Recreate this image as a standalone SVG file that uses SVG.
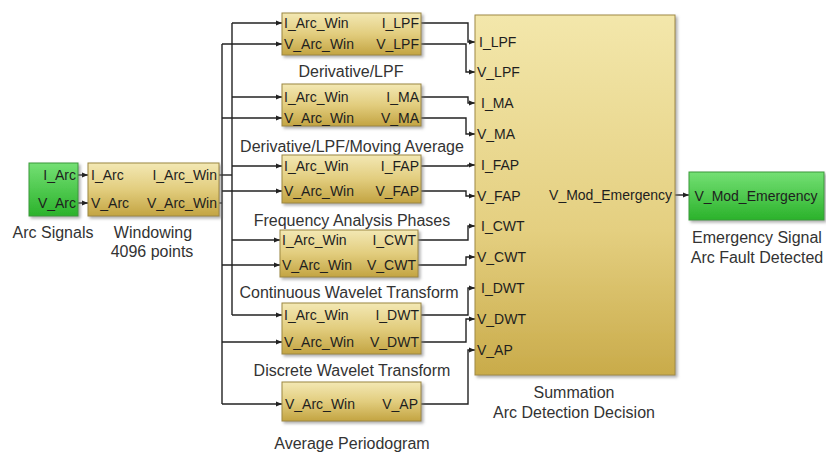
<svg xmlns="http://www.w3.org/2000/svg" width="826" height="452" viewBox="0 0 826 452">
<defs>
<linearGradient id="gold" x1="0" y1="0" x2="0" y2="1">
<stop offset="0" stop-color="#f3e8b4"/><stop offset="0.5" stop-color="#e2cd7e"/><stop offset="1" stop-color="#c3a442"/>
</linearGradient>
<linearGradient id="gold2" x1="0" y1="0" x2="0" y2="1">
<stop offset="0" stop-color="#f3e7ab"/><stop offset="0.6" stop-color="#e4cf80"/><stop offset="1" stop-color="#c9ab4a"/>
</linearGradient>
<linearGradient id="green" x1="0" y1="0" x2="0" y2="1">
<stop offset="0" stop-color="#74e074"/><stop offset="1" stop-color="#2bb22b"/>
</linearGradient>
<filter id="sh" x="-10%" y="-10%" width="130%" height="130%">
<feDropShadow dx="2" dy="2" stdDeviation="1.5" flood-color="#777" flood-opacity="0.6"/>
</filter>
<marker id="arr" viewBox="0 0 6 6" refX="6" refY="3" markerWidth="6" markerHeight="6" markerUnits="userSpaceOnUse" orient="auto">
<path d="M0,0.5 L6,3 L0,5.5 z" fill="#222"/>
</marker>
</defs>
<style>
.blk{fill:url(#gold);stroke:#9c8742;stroke-width:1;filter:url(#sh)}
.sum{fill:url(#gold2);stroke:#a08a45;stroke-width:1;filter:url(#sh)}
.grn{fill:url(#green);stroke:#3a9a3a;stroke-width:1;filter:url(#sh)}
.p{font-family:"Liberation Sans",Arial,sans-serif;font-size:14px;fill:#1e1e1e}
.r{text-anchor:end}
.cap{font-family:"Liberation Sans",Arial,sans-serif;font-size:16px;fill:#333;text-anchor:middle}
.w{fill:none;stroke:#222;stroke-width:1.4}
.a{marker-end:url(#arr)}
</style>
<rect width="826" height="452" fill="#fff"/>

<g id="connectors">
<path class="w a" d="M78,175 H88"/>
<path class="w a" d="M78,203 H88"/>
<path class="w" d="M219,175 H232"/>
<path class="w" d="M219,203 H222"/>
<path class="w" d="M232,23 V315"/>
<path class="w" d="M222,44 V404"/>
<path class="w a" d="M232,23 H282"/>
<path class="w a" d="M222,44 H282"/>
<path class="w a" d="M232,97 H282"/>
<path class="w a" d="M222,118 H282"/>
<path class="w a" d="M232,166 H282"/>
<path class="w a" d="M222,191 H282"/>
<path class="w a" d="M232,240 H280"/>
<path class="w a" d="M222,265 H280"/>
<path class="w a" d="M232,315 H282"/>
<path class="w a" d="M222,342 H282"/>
<path class="w a" d="M222,404 H282"/>
<path class="w a" d="M421,23 H468 V42 H475"/>
<path class="w a" d="M421,44 H466 V72 H475"/>
<path class="w a" d="M421,97 H468 V103 H475"/>
<path class="w a" d="M421,118 H466 V134 H475"/>
<path class="w a" d="M421,166 H468 V165 H475"/>
<path class="w a" d="M421,191 H466 V196 H475"/>
<path class="w a" d="M418,240 H468 V226 H475"/>
<path class="w a" d="M418,265 H466 V257 H475"/>
<path class="w a" d="M421,315 H468 V288 H475"/>
<path class="w a" d="M421,342 H466 V319 H475"/>
<path class="w a" d="M421,404 H468 V350 H475"/>
<path class="w a" d="M675,195 H689"/>
</g>

<g id="arc-signals">
<rect class="grn" x="29" y="163" width="49" height="53"/>
<text class="p r" x="76" y="180">I_Arc</text>
<text class="p r" x="76" y="208">V_Arc</text>
<text class="cap" x="53" y="238">Arc Signals</text>
</g>

<g id="windowing">
<rect class="blk" x="88" y="163" width="131" height="53"/>
<text class="p" x="91" y="180">I_Arc</text>
<text class="p r" x="217" y="180">I_Arc_Win</text>
<text class="p" x="91" y="208">V_Arc</text>
<text class="p r" x="217" y="208">V_Arc_Win</text>
<text class="cap" x="153" y="238">Windowing</text>
<text class="cap" x="152" y="257">4096 points</text>
</g>

<g id="lpf">
<rect class="blk" x="282" y="13" width="139" height="42"/>
<text class="p" x="284" y="28">I_Arc_Win</text>
<text class="p r" x="419" y="28">I_LPF</text>
<text class="p" x="284" y="49">V_Arc_Win</text>
<text class="p r" x="419" y="49">V_LPF</text>
<text class="cap" x="351" y="77">Derivative/LPF</text>
</g>

<g id="ma">
<rect class="blk" x="282" y="84" width="139" height="42"/>
<text class="p" x="284" y="102">I_Arc_Win</text>
<text class="p r" x="419" y="102">I_MA</text>
<text class="p" x="284" y="123">V_Arc_Win</text>
<text class="p r" x="419" y="123">V_MA</text>
<text class="cap" x="352" y="152">Derivative/LPF/Moving Average</text>
</g>

<g id="fap">
<rect class="blk" x="282" y="155" width="139" height="48"/>
<text class="p" x="284" y="171">I_Arc_Win</text>
<text class="p r" x="419" y="171">I_FAP</text>
<text class="p" x="284" y="196">V_Arc_Win</text>
<text class="p r" x="419" y="196">V_FAP</text>
<text class="cap" x="352" y="226">Frequency Analysis Phases</text>
</g>

<g id="cwt">
<rect class="blk" x="280" y="230" width="138" height="47"/>
<text class="p" x="282" y="245">I_Arc_Win</text>
<text class="p r" x="416" y="245">I_CWT</text>
<text class="p" x="282" y="270">V_Arc_Win</text>
<text class="p r" x="416" y="270">V_CWT</text>
<text class="cap" x="349" y="298">Continuous Wavelet Transform</text>
</g>

<g id="dwt">
<rect class="blk" x="282" y="303" width="139" height="51"/>
<text class="p" x="284" y="320">I_Arc_Win</text>
<text class="p r" x="419" y="320">I_DWT</text>
<text class="p" x="284" y="347">V_Arc_Win</text>
<text class="p r" x="419" y="347">V_DWT</text>
<text class="cap" x="352" y="376">Discrete Wavelet Transform</text>
</g>

<g id="ap">
<rect class="blk" x="282" y="382" width="139" height="39"/>
<text class="p" x="285" y="409">V_Arc_Win</text>
<text class="p r" x="418" y="409">V_AP</text>
<text class="cap" x="352" y="449">Average Periodogram</text>
</g>

<g id="summation">
<rect class="sum" x="475" y="15" width="200" height="360"/>
<text class="p" x="479" y="47">I_LPF</text>
<text class="p" x="477" y="77">V_LPF</text>
<text class="p" x="481" y="108">I_MA</text>
<text class="p" x="477" y="139">V_MA</text>
<text class="p" x="481" y="170">I_FAP</text>
<text class="p" x="477" y="201">V_FAP</text>
<text class="p" x="481" y="231">I_CWT</text>
<text class="p" x="477" y="262">V_CWT</text>
<text class="p" x="481" y="293">I_DWT</text>
<text class="p" x="477" y="324">V_DWT</text>
<text class="p" x="477" y="355">V_AP</text>
<text class="p r" x="672" y="200">V_Mod_Emergency</text>
<text class="cap" x="574" y="398">Summation</text>
<text class="cap" x="574" y="418">Arc Detection Decision</text>
</g>

<g id="emergency">
<rect class="grn" x="689" y="172" width="135" height="48"/>
<text class="p" x="756" y="201" text-anchor="middle">V_Mod_Emergency</text>
<text class="cap" x="757" y="243">Emergency Signal</text>
<text class="cap" x="757" y="263">Arc Fault Detected</text>
</g>
</svg>
